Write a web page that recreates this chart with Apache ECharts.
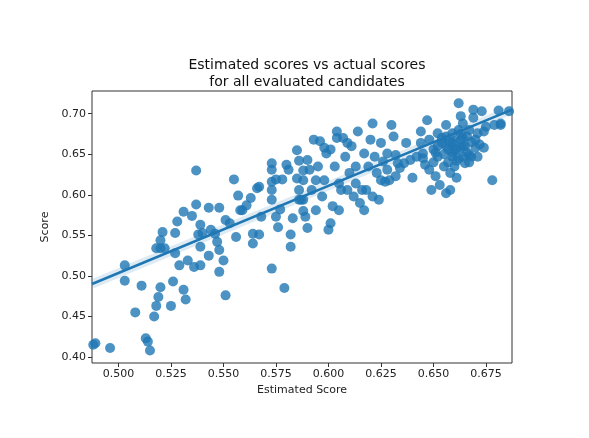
<!DOCTYPE html>
<html><head><meta charset="utf-8">
<script src="https://cdn.jsdelivr.net/npm/echarts@6/dist/echarts.min.js"></script>
<style>html,body{margin:0;padding:0;background:#fff}#c{width:589px;height:438px}</style>
</head><body><div id="c"></div>
<script>
const estimated = [0.488,0.489,0.496,0.503,0.503,0.508,0.511,0.513,0.514,0.515,0.517,0.518,0.519,0.520,0.518,0.520,0.522,0.520,0.521,0.525,0.526,0.527,0.527,0.528,0.529,0.531,0.532,0.533,0.531,0.535,0.536,0.537,0.537,0.539,0.539,0.539,0.538,0.540,0.543,0.543,0.544,0.546,0.547,0.548,0.548,0.548,0.550,0.551,0.551,0.553,0.555,0.556,0.557,0.558,0.559,0.561,0.563,0.564,0.564,0.567,0.566,0.567,0.568,0.573,0.573,0.573,0.573,0.573,0.573,0.575,0.575,0.576,0.577,0.578,0.579,0.580,0.581,0.582,0.582,0.583,0.585,0.585,0.586,0.586,0.588,0.588,0.588,
0.586,0.587,0.588,0.589,0.590,0.590,0.591,0.592,0.593,0.594,0.594,0.595,0.596,0.597,0.598,0.598,0.599,0.600,0.601,0.601,0.602,0.603,0.604,0.604,0.605,0.605,0.606,0.607,0.608,0.609,0.609,0.610,0.611,0.612,0.613,0.613,0.614,0.615,0.616,0.617,0.617,0.618,0.619,0.620,0.621,0.621,0.622,0.623,0.624,0.625,0.625,0.626,0.627,0.628,0.628,0.629,0.630,0.631,0.632,0.632,0.633,0.634,0.636,0.637,0.639,0.640,0.642,0.644,0.644,0.645,0.646,0.647,0.648,0.648,0.649,0.650,0.651,0.652,0.652,0.653,0.654,0.655,0.656,0.656,0.656,0.657,0.658,0.658,0.659,0.659,0.659,0.660,0.661,0.661,0.662,0.662,0.663,0.663,0.664,0.664,0.664,0.665,0.666,0.667,0.667,0.668,0.669,0.669,0.670,0.671,0.671,0.672,0.673,0.674,0.674,0.675,0.678,0.679,0.681,0.682,0.682,0.686,0.688,
0.652,0.655,0.658,0.660,0.662,0.665,0.657,0.663,0.654,0.661,0.666,0.659,0.668,0.650,0.645,0.667,0.670,0.656,0.663,0.651,0.664,0.660];
const score = [0.415,0.417,0.411,0.513,0.494,0.455,0.488,0.423,0.419,0.408,0.450,0.463,0.474,0.486,0.534,0.534,0.534,0.544,0.554,0.463,0.493,0.528,0.553,0.567,0.513,0.483,0.471,0.519,0.579,0.574,0.511,0.630,0.588,0.563,0.536,0.513,0.551,0.553,0.584,0.525,0.557,0.552,0.542,0.584,0.532,0.505,0.519,0.476,0.569,0.565,0.619,0.548,0.599,0.581,0.581,0.587,0.596,0.540,0.552,0.551,0.608,0.610,0.573,0.509,0.639,0.631,0.616,0.606,0.594,0.573,0.619,0.560,0.582,0.619,0.485,0.637,0.631,0.551,0.536,0.571,0.655,0.620,0.642,0.594,0.630,0.594,0.580,
0.606,0.594,0.618,0.573,0.559,0.643,0.631,0.606,0.668,0.581,0.618,0.635,0.666,0.598,0.658,0.618,0.651,0.557,0.656,0.565,0.586,0.635,0.670,0.678,0.614,0.581,0.606,0.670,0.647,0.664,0.606,0.627,0.660,0.598,0.614,0.635,0.678,0.590,0.606,0.581,0.651,0.606,0.635,0.668,0.598,0.688,0.647,0.627,0.594,0.664,0.618,0.641,0.616,0.631,0.651,0.618,0.686,0.672,0.623,0.649,0.639,0.633,0.639,0.664,0.643,0.621,0.647,0.678,0.664,0.651,0.637,0.692,0.668,0.631,0.606,0.656,0.623,0.676,0.647,0.612,0.664,0.635,0.602,0.686,0.672,0.656,0.627,0.606,0.647,0.676,0.664,0.635,0.621,0.656,0.713,0.680,0.697,0.668,0.647,0.688,0.660,0.639,0.672,0.649,0.680,0.647,0.705,0.695,0.658,0.676,0.647,0.662,0.703,0.658,0.678,0.684,0.618,0.686,0.704,0.688,0.686,0.703,0.699,
0.660,0.650,0.665,0.655,0.645,0.660,0.640,0.675,0.670,0.642,0.652,0.652,0.665,0.640,0.645,0.640,0.668,0.660,0.658,0.652,0.670,0.666];
const regX = [0.4874, 0.6874];
const regY = [0.490, 0.705];
const xTicks = [0.500,0.525,0.550,0.575,0.600,0.625,0.650,0.675];
const yTicks = [0.40,0.45,0.50,0.55,0.60,0.65,0.70];

const pts = estimated.map((v,i)=>[v,score[i]]);
const line = regX.map((v,i)=>[v,regY[i]]);
const ch = echarts.init(document.getElementById('c'));
const lbl = {color:'#222',fontSize:11,fontFamily:'DejaVu Sans'};
ch.setOption({
  animation:false,
  title:{text:'Estimated scores vs actual scores\nfor all evaluated candidates',left:302,top:52,textAlign:'center',
    textStyle:{fontSize:14,fontWeight:'normal',color:'#111',fontFamily:'DejaVu Sans',lineHeight:17}},
  grid:{left:92,right:77,top:91,bottom:75,show:true,borderColor:'#333',borderWidth:1},
  xAxis:{type:'value',min:0.4874,max:0.6874,name:'Estimated Score',nameLocation:'middle',nameGap:22,
    nameTextStyle:{fontSize:11,color:'#222',fontFamily:'DejaVu Sans'},
    splitLine:{show:false},axisLine:{show:false},
    axisTick:{show:true,customValues:xTicks,length:4,lineStyle:{color:'#333'}},
    axisLabel:Object.assign({customValues:xTicks,formatter:v=>v.toFixed(3),margin:6},lbl)},
  yAxis:{type:'value',min:0.3926,max:0.728,name:'Score',nameLocation:'middle',nameGap:38,nameRotate:90,
    nameTextStyle:{fontSize:11,color:'#222',fontFamily:'DejaVu Sans'},
    splitLine:{show:false},axisLine:{show:false},
    axisTick:{show:true,customValues:yTicks,length:4,lineStyle:{color:'#333'}},
    axisLabel:Object.assign({customValues:yTicks,formatter:v=>v.toFixed(2),margin:6},lbl)},
  series:[
    {type:'line',data:line,symbol:'none',z:1,lineStyle:{width:9,color:'#1f77b4',opacity:0.15}},
    {type:'scatter',data:pts,symbolSize:10,z:2,itemStyle:{color:'#1f77b4',opacity:0.8}},
    {type:'line',data:line,symbol:'none',z:3,lineStyle:{width:2.5,color:'#1f77b4'}}
  ]
});
</script></body></html>
